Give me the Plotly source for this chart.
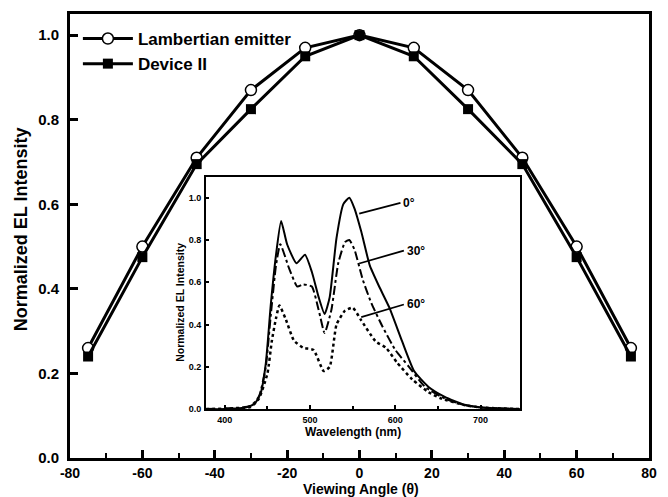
import plotly.graph_objects as go

# ---- main data ----
angles = [-75, -60, -45, -30, -15, 0, 15, 30, 45, 60, 75]
lambertian = [0.26, 0.50, 0.71, 0.87, 0.97, 1.00, 0.97, 0.87, 0.71, 0.50, 0.26]
device2 = [0.24, 0.475, 0.695, 0.825, 0.95, 1.00, 0.95, 0.825, 0.695, 0.475, 0.24]
x_ticks = [-80, -60, -40, -20, 0, 20, 40, 60, 80]
x_ticktext = ["-80", "-60", "-40", "-20", "0", "20", "40", "60", "80"]

# ---- inset data (EL spectra) ----
wl0 = [378, 400, 420, 430, 435, 442, 448, 454, 460, 466, 473, 484, 494, 502, 510, 517, 523,
       531, 539, 546, 552, 560, 570, 581, 593, 608, 622, 639, 658, 680, 700, 720, 746]
v0 = [0.0, 0.0, 0.005, 0.015, 0.025, 0.075, 0.215, 0.50, 0.73, 0.89, 0.78, 0.69, 0.73, 0.65, 0.53,
      0.45, 0.53, 0.81, 0.97, 1.0, 0.95, 0.84, 0.68, 0.58, 0.48, 0.32, 0.18, 0.105, 0.058, 0.022,
      0.008, 0.004, 0.0]
wl30 = [378, 430, 440, 448, 454, 460, 465, 475, 485, 492, 502, 510, 517, 525, 533, 541, 546, 552,
        562, 572, 585, 600, 616, 635, 658, 680, 700, 746]
v30 = [0.0, 0.015, 0.06, 0.20, 0.45, 0.68, 0.78, 0.67, 0.58, 0.59, 0.58, 0.47, 0.36, 0.47, 0.69,
       0.79, 0.80, 0.755, 0.61, 0.50, 0.39, 0.28, 0.20, 0.105, 0.05, 0.02, 0.008, 0.0]
wl60 = [378, 430, 440, 450, 455, 460, 464, 471, 481, 492, 504, 516, 523, 531, 541, 550, 560, 577,
        589, 602, 620, 639, 654, 680, 700, 746]
v60 = [0.0, 0.01, 0.05, 0.17, 0.32, 0.43, 0.49, 0.43, 0.325, 0.29, 0.28, 0.18, 0.20, 0.40, 0.466,
       0.48, 0.42, 0.32, 0.29, 0.22, 0.14, 0.08, 0.05, 0.02, 0.008, 0.0]

series_labels = ["Lambertian emitter", "Device II"]
angle_labels = ["0°", "30°", "60°"]

FONT = "Liberation Sans, Arial, sans-serif"

fig = go.Figure()

fig.add_trace(go.Scatter(
    x=angles, y=lambertian, name=series_labels[0], mode="lines+markers",
    line=dict(color="black", width=3),
    marker=dict(symbol="circle", size=11, color="white", line=dict(color="black", width=1.5)),
))
fig.add_trace(go.Scatter(
    x=angles, y=device2, name=series_labels[1], mode="lines+markers",
    line=dict(color="black", width=3),
    marker=dict(symbol="square", size=10, color="black", line=dict(color="black", width=0)),
))

# inset spectra
fig.add_trace(go.Scatter(x=wl0, y=v0, mode="lines", xaxis="x2", yaxis="y2", showlegend=False,
                         line=dict(color="black", width=2, shape="spline", smoothing=0.5)))
fig.add_trace(go.Scatter(x=wl30, y=v30, mode="lines", xaxis="x2", yaxis="y2", showlegend=False,
                         line=dict(color="black", width=2, dash="dashdot", shape="spline", smoothing=0.5)))
fig.add_trace(go.Scatter(x=wl60, y=v60, mode="lines", xaxis="x2", yaxis="y2", showlegend=False,
                         line=dict(color="black", width=2.5, dash="dot", shape="spline", smoothing=0.5)))

L, R, T, B = 70, 11, 13, 39
W, H = 668, 497
PW, PH = W - L - R, H - T - B

def px(xp):
    return (xp - L) / PW

def py(yp):
    return (H - B - yp) / PH

inset_x = [px(208), px(526)]
inset_y = [py(409), py(176)]

bold = dict(family=FONT, color="black", weight="bold")

fig.update_layout(
    width=W, height=H,
    margin=dict(l=L, r=R, t=T, b=B, pad=0),
    paper_bgcolor="white", plot_bgcolor="white",
    font=dict(family=FONT, color="black", weight="bold"),
    showlegend=True,
    legend=dict(x=px(78), y=py(20), xanchor="left", yanchor="top",
                bgcolor="rgba(0,0,0,0)", font=dict(size=17, family=FONT, weight="bold"),
                itemwidth=50, tracegroupgap=0),
    xaxis=dict(range=[-80, 80], tickvals=x_ticks, ticktext=x_ticktext,
               ticks="inside", ticklen=8, tickwidth=2.5, tickcolor="black",
               minor=dict(dtick=10, ticks="inside", ticklen=5, tickwidth=2, tickcolor="black"),
               showline=True, linewidth=3, linecolor="black", mirror=True,
               showgrid=False, zeroline=False, ticklabelstandoff=0,
               tickfont=dict(size=14, **bold)),
    yaxis=dict(range=[0, 1.05], tickvals=[0, 0.2, 0.4, 0.6, 0.8, 1.0], tickformat=".1f",
               ticks="inside", ticklen=8, tickwidth=2.5, tickcolor="black",
               showline=True, linewidth=3, linecolor="black", mirror=True,
               showgrid=False, zeroline=False, ticklabelstandoff=5,
               tickfont=dict(size=15, **bold)),
    xaxis2=dict(domain=inset_x, anchor="y2", range=[378, 746],
                tickvals=[400, 500, 600, 700], ticks="inside", ticklen=4, tickwidth=1.5,
                tickcolor="black",
                minor=dict(dtick=50, ticks="inside", ticklen=3, tickwidth=1.5, tickcolor="black"),
                showline=True, linewidth=2, linecolor="black", mirror=True,
                showgrid=False, zeroline=False, ticklabelstandoff=1,
                tickfont=dict(size=9, **bold)),
    yaxis2=dict(domain=inset_y, anchor="x2", range=[0, 1.1],
                tickvals=[0, 0.2, 0.4, 0.6, 0.8, 1.0], tickformat=".1f",
                ticks="inside", ticklen=3, tickwidth=1.5, tickcolor="black",
                showline=True, linewidth=2, linecolor="black", mirror=True,
                showgrid=False, zeroline=False, ticklabelstandoff=1,
                tickfont=dict(size=9, **bold)),
)

annotations = [
    dict(text="Viewing Angle (θ)", x=px(365), y=py(489), xref="paper", yref="paper",
         showarrow=False, font=dict(size=14, **bold), xanchor="center", yanchor="middle"),
    dict(text="Normalized EL Intensity", x=px(20), y=py(229), xref="paper", yref="paper",
         showarrow=False, textangle=-90, font=dict(size=18, **bold),
         xanchor="center", yanchor="middle"),
    dict(text="Wavelength (nm)", x=px(357), y=py(432), xref="paper", yref="paper",
         showarrow=False, font=dict(size=12, **bold), xanchor="center", yanchor="middle"),
    dict(text="Normalized EL Intensity", x=px(182), y=py(302), xref="paper", yref="paper",
         showarrow=False, textangle=-90, font=dict(size=10.5, **bold),
         xanchor="center", yanchor="middle"),
]

# angle labels and leader lines in the inset
lead = [
    ((557.6, 0.925), (606.0, 0.976)),
    ((557.6, 0.689), (610.0, 0.750)),
    ((560.0, 0.435), (610.0, 0.495)),
]
for lbl, (p0, p1) in zip(angle_labels, lead):
    fig.add_shape(type="line", xref="x2", yref="y2", x0=p0[0], y0=p0[1], x1=p1[0], y1=p1[1],
                  line=dict(color="black", width=1.8))
    annotations.append(dict(text=lbl, x=p1[0] + 1, y=p1[1], xref="x2", yref="y2",
                            showarrow=False, xanchor="left", yanchor="middle",
                            font=dict(size=12, **bold)))

fig.update_layout(annotations=annotations)

fig.write_html("out.html")
